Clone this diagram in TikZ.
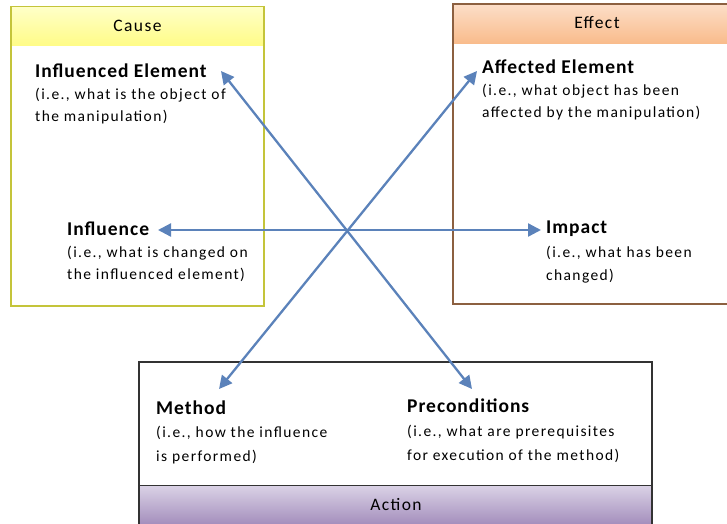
\documentclass[tikz,border=0pt]{standalone}
\usepackage{fontspec}
\setmainfont{Carlito}
\usetikzlibrary{arrows.meta}
\definecolor{causeline}{HTML}{C4C43A}
\definecolor{causetop}{HTML}{FFFFC8}
\definecolor{causebot}{HTML}{FFFC88}
\definecolor{effectline}{HTML}{8C6040}
\definecolor{effecttop}{HTML}{FCDEC8}
\definecolor{effectbot}{HTML}{F9BC8C}
\definecolor{actionline}{HTML}{333333}
\definecolor{actiontop}{HTML}{DAD2E6}
\definecolor{actionbot}{HTML}{9C84B6}
\definecolor{arrowblue}{HTML}{5B82BA}
\tikzset{
  x=1pt, y=-1pt,
  title/.style={anchor=base west, inner sep=0pt,
    font=\fontsize{19.5}{22}\selectfont\bfseries\addfontfeature{LetterSpace=5}},
  note/.style={anchor=base west, inner sep=0pt,
    font=\fontsize{15.5}{18}\selectfont\addfontfeature{LetterSpace=9}},
  header/.style={inner sep=0pt,
    font=\fontsize{17.5}{20}\selectfont\addfontfeature{LetterSpace=8}},
  link/.style={arrowblue, line width=2.3pt,
    {Triangle[length=13pt,width=13pt]}-{Triangle[length=13pt,width=13pt]}}
}
\begin{document}
\begin{tikzpicture}
\useasboundingbox (0,0) rectangle (727,523);
% Cause panel
\shade[top color=causetop, bottom color=causebot] (11,6.5) rectangle (264,45);
\draw[causeline, line width=1.3pt] (11,6.5) rectangle (264,306);
\node[header] (cause) at (137.5,26) {Cause};
% Effect panel (runs past the right edge)
\shade[top color=effecttop, bottom color=effectbot] (453,4) rectangle (740,43);
\draw[effectline, line width=1.3pt] (740,4) -- (453,4) -- (453,304) -- (740,304);
\node[header] (effect) at (597,23) {Effect};
% Action panel (runs past the bottom edge)
\shade[top color=actiontop, bottom color=actionbot] (139,485.5) rectangle (652,530);
\draw[actionline, line width=1.3pt] (139,530) -- (139,362) -- (652,362) -- (652,530);
\draw[actionline, line width=1.3pt] (139,485.5) -- (652,485.5);
\node[header] (action) at (396,505) {Action};
% Text blocks: a bold title and two lines of explanation each
\node[title] (infel) at (35,77) {Influenced Element};
\node[note] (infelnotea) at (35,99) {(i.e., what is the object of};
\node[note] (infelnoteb) at (35,121) {the manipulation)};
\node[title] (infl) at (67,235) {Influence};
\node[note] (inflnotea) at (67,257) {(i.e., what is changed on};
\node[note] (inflnoteb) at (67,279) {the influenced element)};
\node[title] (affel) at (482,73) {Affected Element};
\node[note] (affelnotea) at (482,95) {(i.e., what object has been};
\node[note] (affelnoteb) at (482,117) {affected by the manipulation)};
\node[title] (impact) at (546,233) {Impact};
\node[note] (impactnotea) at (546,257) {(i.e., what has been};
\node[note] (impactnoteb) at (546,280) {changed)};
\node[title] (method) at (156,414) {Method};
\node[note] (methodnotea) at (156,437) {(i.e., how the influence};
\node[note] (methodnoteb) at (156,461) {is performed)};
\node[title] (precond) at (407,412) {Preconditions};
\node[note] (precondnotea) at (407,436) {(i.e., what are prerequisites};
\node[note] (precondnoteb) at (407,460) {for execution of the method)};
% Arrow ends
\coordinate (tinfel) at (221,71);
\coordinate (tprecond) at (472,389);
\coordinate (taffel) at (477,71);
\coordinate (tmethod) at (219,389);
\coordinate (tinfl) at (158,230);
\coordinate (timpact) at (541,230);
% Connectors crossing in the middle
\draw[link] (tinfl) -- (timpact);
\draw[link] (tinfel) -- (tprecond);
\draw[link] (taffel) -- (tmethod);
\end{tikzpicture}
\end{document}
